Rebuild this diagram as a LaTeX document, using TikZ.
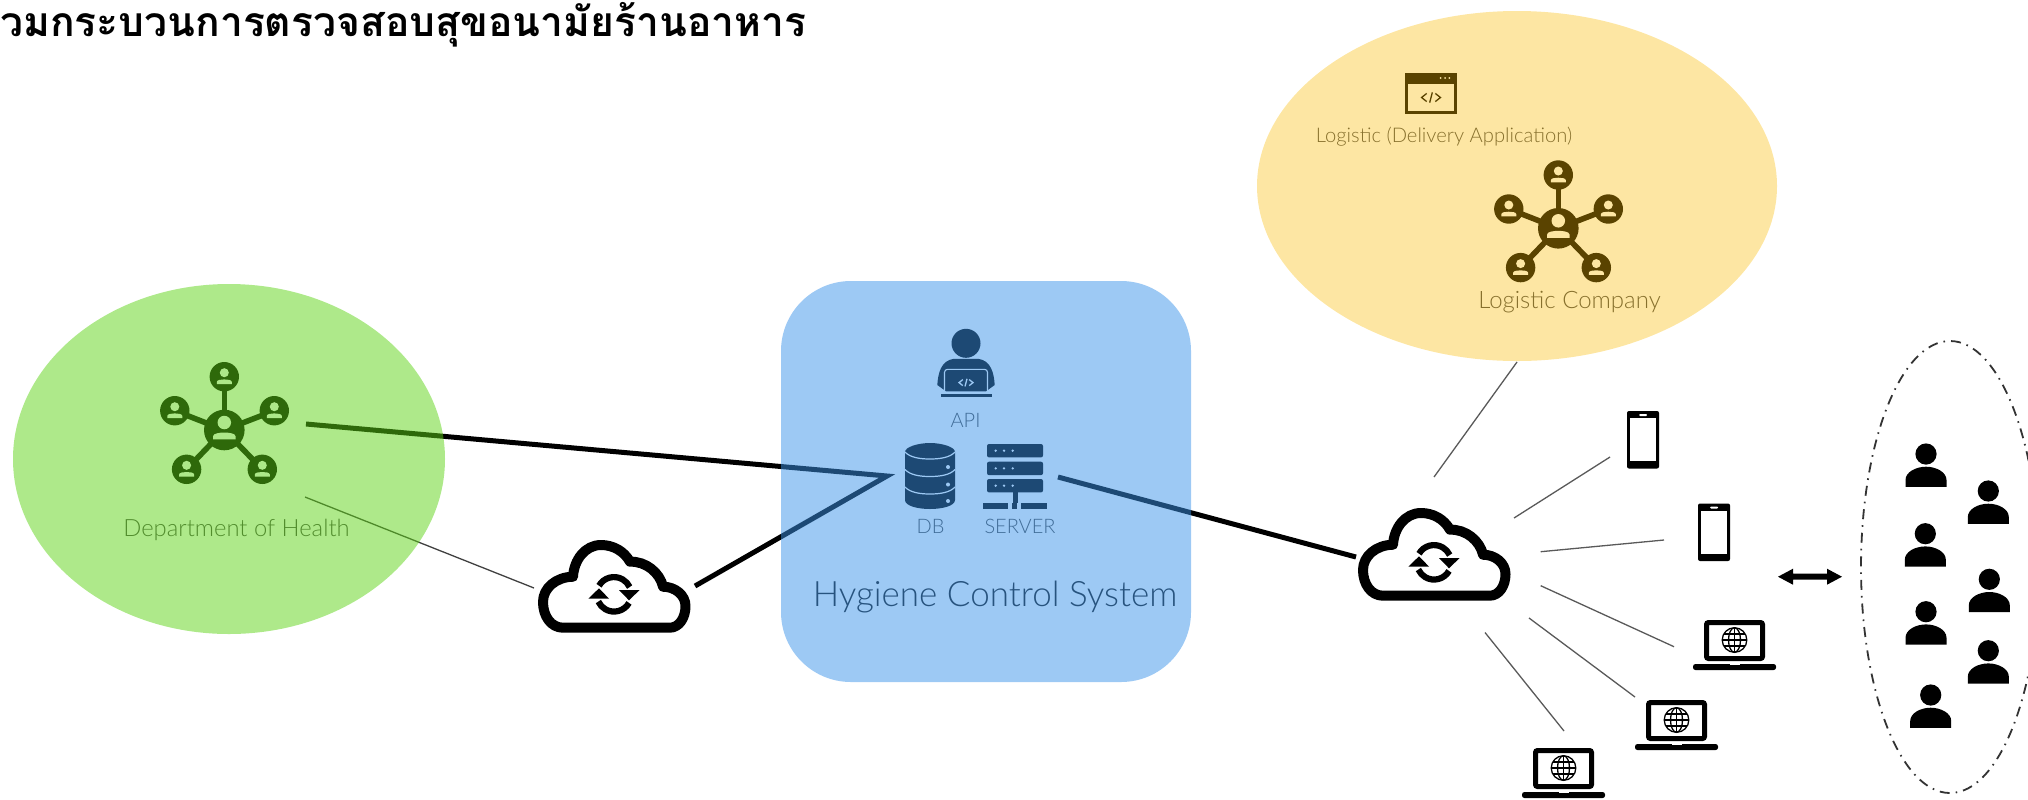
\documentclass[tikz,border=0pt]{standalone}
\usepackage{fontspec}
\newfontfamily\thaifont[Script=Thai]{Loma}
\newfontfamily\lab{Lato Light}
\usetikzlibrary{calc}
\tikzset{
  thickln/.style={line width=2.5pt,black},
  thinln/.style={line width=0.65pt,black!65},
  lbl/.style={inner sep=0pt,text=black!72,font=\lab},
  dashring/.style={line width=0.9pt,black!80,dash pattern=on 5pt off 3pt on 0.8pt off 3pt},
  pics/person/.style={code={
    \fill (0,0) circle[radius=10.6];
    \fill (-20.5,32.8) -- (-20.5,26) .. controls (-20.5,18) and (-10,12.7) .. (0,12.7) .. controls (10,12.7) and (20.5,18) .. (20.5,26) -- (20.5,32.8) -- cycle;
  }},
  pics/phone/.style={code={
    \fill[rounded corners=1pt] (0,0) rectangle (32,57.5);
    \fill[white] (3.4,7.4) rectangle (28.6,50);
    \fill[white,rounded corners=0.5pt] (12,3) rectangle (20,5);
  }},
  pics/laptop/.style={code={
    \draw[line width=2.5pt,rounded corners=1pt] (-28,2.5) rectangle (28,38.5);
    \fill[rounded corners=1.2pt] (-41.5,44) rectangle (41.5,50);
    \fill[white] (-5,44) rectangle (5,45.2);
    \begin{scope}[line width=0.65pt]
      \draw (0,20) circle[radius=12.3];
      \draw (0,20) ellipse[x radius=6,y radius=12.3];
      \draw (0,7.7) -- (0,32.3);
      \draw (-12.3,20) -- (12.3,20);
      \draw (-10.5,14) -- (10.5,14);
      \draw (-10.5,26) -- (10.5,26);
    \end{scope}
  }},
  pics/cloudic/.style={code={
    \draw[line width=5pt,line join=round] (25,87.7) -- (131.7,87.7)
      .. controls (141,87.7) and (147.5,78) .. (147.5,66)
      .. controls (147.5,55) and (137,46.7) .. (125,46.7)
      .. controls (122,33) and (108,21) .. (92,21.7)
      .. controls (86,11) and (75,5) .. (63,5)
      .. controls (47,5) and (36,20) .. (35,36.7)
      .. controls (18,37) and (5,48) .. (5,62)
      .. controls (5,76) and (13,87.7) .. (25,87.7) -- cycle;
    \begin{scope}[shift={(76,54.3)}]
      \draw[line width=3.1pt] (-15,-8.6) arc[start angle=210,end angle=335,radius=17.3];
      \fill (5,-4.3) -- (25.6,-4.3) -- (15,6) -- cycle;
      \draw[line width=3.1pt] (15,8.6) arc[start angle=30,end angle=155,radius=17.3];
      \fill (-5,4.3) -- (-25.6,4.3) -- (-15,-6) -- cycle;
    \end{scope}
  }},
  pics/netic/.style={code={
    \foreach \a/\b in {0/-53.3,50/-19.3,-49.5/-19.3,-37.7/39.3,38/39.3}{
      \draw[line width=2.8pt] (0,0) -- (\a,\b);
      \fill (\a,\b) circle[radius=14.7];
      \netman{\a}{\b}{1}
    }
    \fill (0,0) circle[radius=20.3];
    \netman{0}{-1.5}{1.5}
  }}
}
\newcommand\netman[3]{\begin{scope}[shift={(#1,#2)},scale=#3]
  \fill[white] (0,-4) circle[radius=4.5];
  \fill[white] (-7.5,7.3) -- (-7.5,5.2) .. controls (-7.5,3.2) and (-3,2.7) .. (0,2.7) .. controls (3,2.7) and (7.5,3.2) .. (7.5,5.2) -- (7.5,7.3) -- cycle;
\end{scope}}
\newcommand\codeglyph[4]{\begin{scope}[shift={(#1,#2)},scale=#4]
  \draw[#3,line width=0.65pt] (-3.2,-3) -- (-7,0) -- (-3.2,3);
  \draw[#3,line width=0.65pt] (3.2,-3) -- (7,0) -- (3.2,3);
  \draw[#3,line width=0.65pt] (-1,3.8) -- (1,-3.8);
\end{scope}}
\begin{document}
\begin{tikzpicture}[x=0.5pt,y=-0.5pt]
\useasboundingbox (0,0) rectangle (2028,799);
\clip (0,0) rectangle (2028,799);
% title
\node[inner sep=0pt,anchor=base west,font=\thaifont\bfseries\fontsize{20.4}{24}\selectfont] (title) at (0,36) {วมกระบวนการตรวจสอบสุขอนามัยร้านอาหาร};
% free ends
\coordinate (hA) at (306,424);
\coordinate (hB) at (887,476);
\coordinate (cA) at (695,586);
\coordinate (hC) at (305,497);
\coordinate (cB) at (534,588);
\coordinate (sA) at (1058,477);
\coordinate (cC) at (1356,557);
\coordinate (yA) at (1517,362);
\coordinate (cD) at (1434,477);
\coordinate (c1) at (1514,518);
\coordinate (p1) at (1610,457);
\coordinate (c2) at (1540.7,551.7);
\coordinate (p2) at (1664,540);
\coordinate (c3) at (1540.7,585.7);
\coordinate (l1) at (1674,646.7);
\coordinate (c4) at (1529,618);
\coordinate (l2) at (1635,697);
\coordinate (c5) at (1485,632.5);
\coordinate (l3) at (1564,731);
\coordinate (arL) at (1778,576.7);
\coordinate (arR) at (1842,576.7);
% connectors
\draw[thickln] (hA) -- (hB) -- (cA);
\draw[thickln] (sA) -- (cC);
\draw[thinln,black!75] (hC) -- (cB);
\foreach \u/\v in {yA/cD,c1/p1,c2/p2,c3/l1,c4/l2,c5/l3}{\draw[thinln] (\u) -- (\v);}
% double arrow
\fill ($(arL)$) -- ++(15,-8) -- ++(0,5) -- ($(arR)+(-15,-3)$) -- ++(0,-5) -- (arR) -- ++(-15,8) -- ++(0,-5) -- ($(arL)+(15,3)$) -- ++(0,5) -- cycle;
% icons
\pic at (1358,508) {cloudic};
\pic at (538,540) {cloudic};
\pic at (224.3,430) {netic};
\pic at (1558.3,228.3) {netic};
\pic at (1627,411) {phone};
\pic at (1698,503.5) {phone};
\pic at (1734.5,620) {laptop};
\pic at (1676.5,700) {laptop};
\pic at (1563.5,748) {laptop};
\foreach \a/\b in {1926/454,1988.3/491,1925.3/533.7,1989.3/579.3,1926/611.7,1988.3/650.7,1930.7/695}{\pic at (\a,\b) {person};}
\draw[dashring] (1950,567) ellipse[x radius=89,y radius=226];
% window icon
\begin{scope}[shift={(1405,73)}]
  \fill (0,0) rectangle (52,41);
  \fill[white] (3,10.5) rectangle (49,38);
  \foreach \d in {35.7,40,44.3}{\fill[white] (\d,5) circle[radius=1];}
  \codeglyph{26}{24.5}{black}{1.35}
\end{scope}
% developer icon
\begin{scope}[shift={(966,343.3)}]
  \fill (0,0) circle[radius=14.5];
  \fill (-28.7,41.7) .. controls (-28,30) and (-25,17) .. (-12,15.5) -- (12,15.5) .. controls (25,17) and (28,30) .. (28.7,41.7) -- (20,48) -- (-20,48) -- cycle;
  \draw[white,line width=0.55pt,rounded corners=1.5pt] (-21.5,50) -- (-21.5,26) -- (21.5,26) -- (21.5,50);
  \fill (-25.3,50.5) rectangle (25.7,54);
  \codeglyph{0}{39.3}{white}{1}
\end{scope}
% database icon
\begin{scope}[shift={(930,443)}]
  \fill (-25,9) .. controls (-25,4) and (-12,0) .. (0,0) .. controls (12,0) and (25,4) .. (25,9) -- (25,57) .. controls (25,63) and (12,66) .. (0,66) .. controls (-12,66) and (-25,63) .. (-25,57) -- cycle;
  \foreach \y in {9,26.5,44}{\draw[white,line width=0.6pt] (-25,\y) .. controls (-20,\y+5.5) and (-10,\y+7) .. (0,\y+7) .. controls (10,\y+7) and (20,\y+5.5) .. (25,\y);}
  \foreach \y in {24,41.5,58}{\fill[white] (18,\y) circle[radius=2];}
\end{scope}
% server icon
\foreach \y in {444,461.7,479}{
  \fill[rounded corners=1pt] (987,\y) rectangle (1043,\y+13.4);
  \foreach \d in {995.7,1004,1012.7}{\fill[white] (\d,\y+6.7) circle[radius=1.3];}
}
\fill (1012.5,492) rectangle (1017.5,503);
\fill (983,503) rectangle (1008,509);
\fill (1012,503) rectangle (1017,509);
\fill (1021,503) rectangle (1047,509);
% labels
\node[lbl,font=\lab\fontsize{11.9}{14}\selectfont] (dep) at (236.5,530) {Department of Health};
\node[lbl,font=\lab\fontsize{10}{12}\selectfont] (api) at (965.5,420) {API};
\node[lbl,font=\lab\fontsize{10}{12}\selectfont] (db) at (930.5,526) {DB};
\node[lbl,font=\lab\fontsize{10}{12}\selectfont] (srv) at (1020,526) {SERVER};
\node[lbl,text=black!92,font=\lab\fontsize{17.5}{21}\selectfont] (hcs) at (995,597) {Hygiene Control System};
\node[lbl,font=\lab\fontsize{10.1}{12}\selectfont] (appl) at (1444,137) {Logistic (Delivery Application)};
\node[lbl,font=\lab\fontsize{12}{14}\selectfont] (logc) at (1569.5,302) {Logistic Company};
% tinted panels, over the black artwork
\fill[fill={rgb,255:red,93;green,211;blue,21},fill opacity=0.5] (229,459) ellipse[x radius=216,y radius=175];
\fill[fill={rgb,255:red,59;green,147;blue,233},fill opacity=0.5,rounded corners=35pt] (781,281) rectangle (1191,682);
\fill[fill={rgb,255:red,250;green,186;blue,0},fill opacity=0.36] (1517,186) ellipse[x radius=260,y radius=175];
\end{tikzpicture}
\end{document}
